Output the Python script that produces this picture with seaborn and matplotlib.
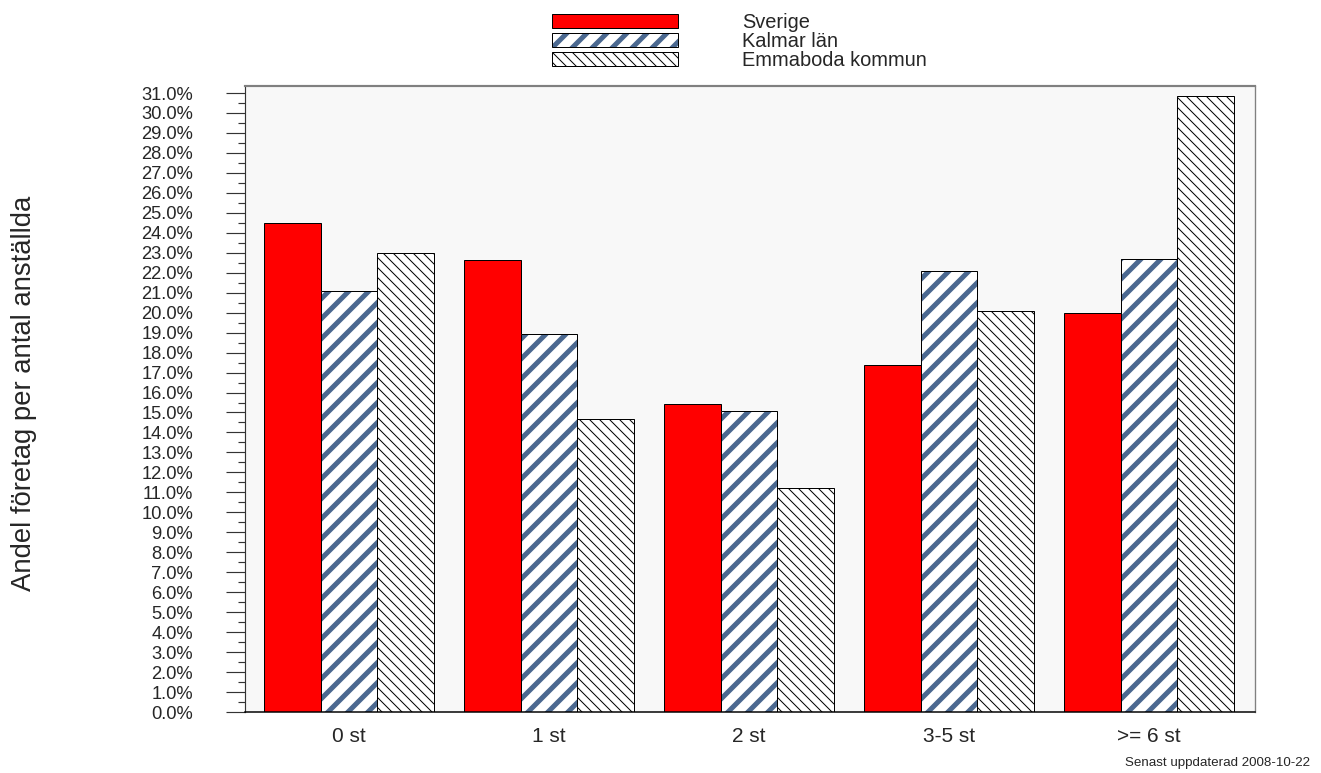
import numpy as np
import pandas as pd
import matplotlib
matplotlib.use('Agg')
import matplotlib.pyplot as plt
import matplotlib.patches as mpatches
from matplotlib.legend_handler import HandlerTuple
from matplotlib.ticker import MultipleLocator, FuncFormatter
import seaborn as sns

# data
kategorier = ['0 st', '1 st', '2 st', '3-5 st', '>= 6 st']
omraden = ['Sverige', 'Kalmar län', 'Emmaboda kommun']
sverige = [24.48, 22.62, 15.41, 17.36, 19.97]
kalmar = [21.1, 18.91, 15.06, 22.07, 22.67]
emmaboda = [22.98, 14.66, 11.2, 20.07, 30.87]

df = pd.DataFrame({
    'kategori': kategorier * 3,
    'omrade': [omraden[0]] * 5 + [omraden[1]] * 5 + [omraden[2]] * 5,
    'andel': sverige + kalmar + emmaboda,
})

sns.set_style('white')
plt.rcParams['font.family'] = ['Liberation Sans', 'DejaVu Sans']

blue = '#4a6890'
hatch_k = '//'
hatch_e = '\\\\\\\\'
fig = plt.figure(figsize=(11.0084, 6.4417), dpi=120)
ax = fig.add_axes([0.1858, 0.0789, 0.7639, 0.8098])
ax.set_facecolor('#f8f8f8')

sns.barplot(data=df, x='kategori', y='andel', hue='omrade', order=kategorier,
            hue_order=omraden, palette={omraden[0]: 'red', omraden[1]: 'white', omraden[2]: 'white'},
            width=0.85, edgecolor='black', linewidth=0.6, saturation=1, legend=False, ax=ax)

def set_hlw(p, lw):
    if hasattr(p, 'set_hatch_linewidth'):
        p.set_hatch_linewidth(lw)

# Kalmar: blue stripes plus a black outline on top
for p in ax.containers[1]:
    p.set_hatch(hatch_k)
    p.set_edgecolor(blue)
    p.set_linewidth(0)
    set_hlw(p, 3.0)
    ax.add_patch(mpatches.Rectangle(p.get_xy(), p.get_width(), p.get_height(),
                                    facecolor='none', edgecolor='black', linewidth=0.6, zorder=p.get_zorder() + 0.1))
for p in ax.containers[2]:
    p.set_hatch(hatch_e)
    set_hlw(p, 0.6)

ax.set_xlim(-0.5175, 4.5275)
ax.set_ylim(0, 31.35)
ax.yaxis.set_major_locator(MultipleLocator(1))
ax.yaxis.set_minor_locator(MultipleLocator(0.5))
ax.yaxis.set_major_formatter(FuncFormatter(lambda v, pos: '{:.1f}%'.format(v)))
ax.tick_params(axis='y', which='major', direction='out', length=11.4, width=0.7, color='#333333',
               pad=20, labelsize=11, left=True)
ax.tick_params(axis='y', which='minor', direction='out', length=4.2, width=0.7, color='#333333', left=True)
ax.tick_params(axis='x', length=0, pad=9, labelsize=12.5)

ax.set_xlabel('')
ax.set_ylabel('Andel företag per antal anställda', fontsize=16.5)
ax.yaxis.set_label_coords(-0.2066, 0.5096)

for s in ['top', 'right']:
    ax.spines[s].set_color('#808080')
ax.spines['top'].set_linewidth(1.3)
ax.spines['right'].set_linewidth(0.8)
ax.spines['left'].set_color('#333333')
ax.spines['left'].set_linewidth(0.7)
ax.spines['bottom'].set_color('black')
ax.spines['bottom'].set_linewidth(0.9)

h1 = mpatches.Patch(facecolor='red', edgecolor='black', linewidth=0.6)
h2a = mpatches.Patch(facecolor='white', edgecolor=blue, linewidth=0, hatch=hatch_k)
h2b = mpatches.Patch(facecolor='none', edgecolor='black', linewidth=0.6)
h3 = mpatches.Patch(facecolor='white', edgecolor='black', linewidth=0.6, hatch=hatch_e)
leg = fig.legend([h1, (h2a, h2b), h3], omraden, loc='upper left',
                 bbox_to_anchor=(0.4179, 0.983), frameon=False, fontsize=12,
                 handlelength=6.3, handleheight=0.7, labelspacing=0.0,
                 handletextpad=3.2, borderpad=0, borderaxespad=0,
                 handler_map={tuple: HandlerTuple(ndivide=1)})
for r in leg.findobj(mpatches.Rectangle):
    if r.get_hatch() == hatch_k:
        set_hlw(r, 3.0)
    elif r.get_hatch():
        set_hlw(r, 0.6)

fig.text(0.9917, 0.013, 'Senast uppdaterad 2008-10-22', ha='right', va='center', fontsize=8)

fig.savefig('out.png', dpi=120)
